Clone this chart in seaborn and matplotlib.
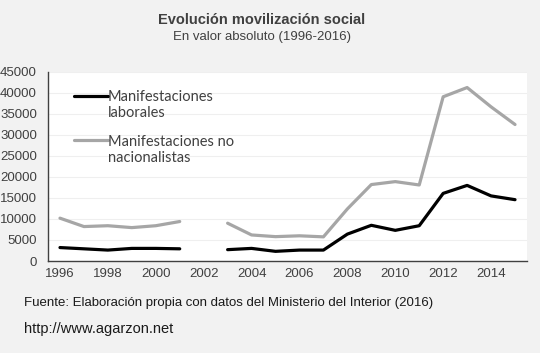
import numpy as np
import pandas as pd
import seaborn as sns
import matplotlib.pyplot as plt

years = [1996, 1997, 1998, 1999, 2000, 2001, 2003, 2004, 2005, 2006, 2007,
         2008, 2009, 2010, 2011, 2012, 2013, 2014, 2015]
segment = [0, 0, 0, 0, 0, 0, 1, 1, 1, 1, 1, 1, 1, 1, 1, 1, 1, 1, 1]
laborales = [3200, 2900, 2600, 3000, 3000, 2900, 2700, 3000, 2300, 2600, 2600,
             6400, 8500, 7300, 8400, 16100, 18000, 15500, 14600]
no_nacionalistas = [10200, 8200, 8400, 7950, 8400, 9400, 9000, 6200, 5800, 6000, 5750,
                    12400, 18200, 18900, 18100, 39100, 41300, 36700, 32500]
series_names = ["Manifestaciones\nlaborales", "Manifestaciones no\nnacionalistas"]
x_ticks = [1996, 1998, 2000, 2002, 2004, 2006, 2008, 2010, 2012, 2014]
y_ticks = [0, 5000, 10000, 15000, 20000, 25000, 30000, 35000, 40000, 45000]

df = pd.concat([
    pd.DataFrame({"year": years, "value": laborales, "seg": segment, "serie": series_names[0]}),
    pd.DataFrame({"year": years, "value": no_nacionalistas, "seg": segment, "serie": series_names[1]}),
])

sns.set_style("white")
plt.rcParams['font.family'] = ['Liberation Sans', 'DejaVu Sans']

fig = plt.figure(figsize=(5.4, 3.53), dpi=100, facecolor="#f2f2f2")
ax = fig.add_axes([48/540, 1-261/353, (527-48)/540, (261-72)/353])
ax.set_facecolor("white")

sns.lineplot(data=df, x="year", y="value", hue="serie", units="seg", estimator=None,
             palette={series_names[0]: "#000000", series_names[1]: "#a6a6a6"},
             linewidth=2.3, ax=ax, legend=True)

ax.set_xlim(1995.5, 2015.5)
ax.set_ylim(0, 45000)
ax.set_xticks(x_ticks)
ax.set_yticks(y_ticks)
ax.set_xticklabels([str(t) for t in x_ticks])
ax.set_yticklabels([str(t) for t in y_ticks])
ax.tick_params(axis="both", length=0, labelsize=9.5, colors="#404040", pad=5)
ax.tick_params(axis="y", pad=8)
ax.set_xlabel("")
ax.set_ylabel("")
ax.grid(axis="y", color="#efefef", linewidth=0.8)
ax.set_axisbelow(True)
for s in ["top", "right"]:
    ax.spines[s].set_visible(False)
for s in ["left", "bottom"]:
    ax.spines[s].set_color("#404040")
    ax.spines[s].set_linewidth(1.0)

leg = ax.legend(loc="upper left", bbox_to_anchor=(0.027, 0.975), frameon=False,
                handlelength=2.3, handletextpad=0.0, labelspacing=1.0,
                prop={"family": "Lato", "size": 10.5})
for t in leg.get_texts():
    t.set_color("#404040")
# align each handle with the first line of its two-line label
for ln in leg.get_lines():
    yd = np.asarray(ln.get_ydata(), dtype=float)
    ln.set_ydata(yd + 7.0)

fig.text(0.485, 0.942, "Evolución movilización social", ha="center", va="center",
         fontsize=10.5, fontweight="bold", color="#404040")
fig.text(0.485, 0.895, "En valor absoluto (1996-2016)", ha="center", va="center",
         fontsize=9.5, color="#404040")
fig.text(24/540, 1-303/353, "Fuente: Elaboración propia con datos del Ministerio del Interior (2016)",
         ha="left", va="center", fontsize=9.5, color="#1a1a1a")
fig.text(24/540, 1-329/353, "http://www.agarzon.net", ha="left", va="center",
         fontsize=10.5, color="#1a1a1a")

fig.savefig("out.png", dpi=100, facecolor=fig.get_facecolor())
